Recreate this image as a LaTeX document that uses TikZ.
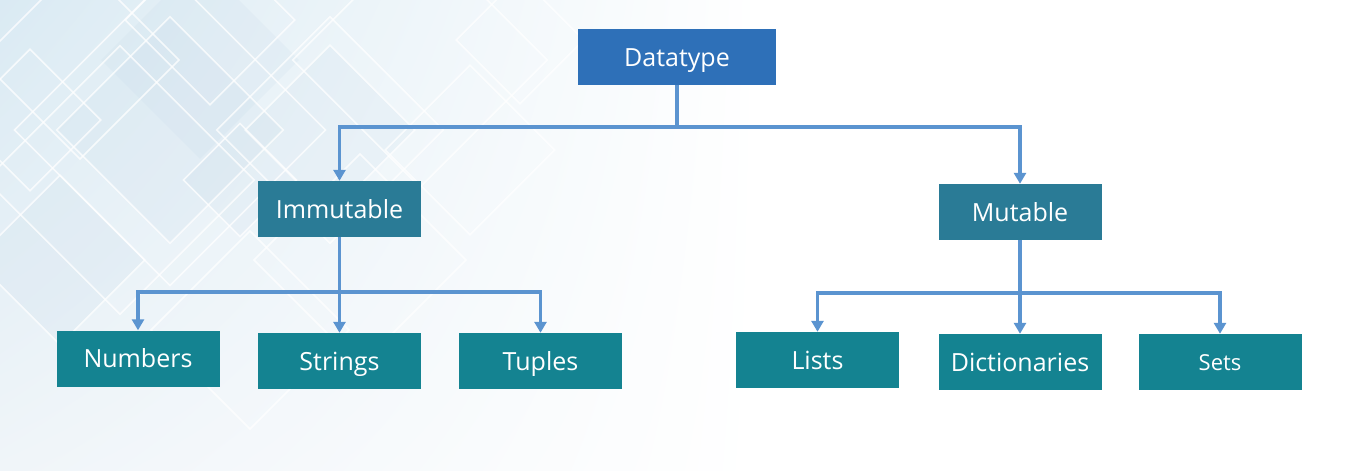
\documentclass[tikz,border=0pt]{standalone}
\usepackage{fontspec}
\setmainfont{Open Sans}
\usetikzlibrary{arrows.meta,shadings}
\definecolor{topblue}{RGB}{46,112,184}
\definecolor{midteal}{RGB}{42,123,150}
\definecolor{leafteal}{RGB}{20,131,145}
\definecolor{linkblue}{RGB}{91,148,208}
\definecolor{bgblue}{RGB}{218,234,243}
\definecolor{bgpale}{RGB}{240,245,249}
\definecolor{diamfill}{RGB}{190,212,230}
\begin{document}
\begin{tikzpicture}[x=1pt,y=-1pt,
  box/.style={rectangle, minimum width=163pt, minimum height=56pt, inner sep=0pt,
    text=white, text height=18pt, text depth=0pt, font=\fontsize{25}{30}\selectfont},
  topbox/.style={box, fill=topblue, minimum width=198pt},
  midbox/.style={box, fill=midteal},
  leafbox/.style={box, fill=leafteal},
  link/.style={draw=linkblue, line width=3.8pt},
  arr/.style={link, -{Triangle[length=11pt,width=12pt]}},
  diamline/.style={draw=white, line width=1.6pt, opacity=0.75},
  diamshade/.style={fill=diamfill, opacity=0.14},
]
% background
\useasboundingbox (0,0) rectangle (1363,471);
\fill[white] (0,0) rectangle (1363,471);
\shade[upper left=bgblue, lower left=bgpale, upper right=white, lower right=white] (0,0) rectangle (760,471);
\begin{scope}
\clip (0,0) rectangle (760,471);
\foreach \cx/\cy/\r in {170/130/80, 330/130/60, 240/180/40, 60/260/60, 200/60/70}
  \fill[diamshade, rotate around={45:(\cx,\cy)}] (\cx-\r,\cy-\r) rectangle (\cx+\r,\cy+\r);
\foreach \cx/\cy/\r in {170/130/110, 170/130/80, 330/130/80, 330/130/60, 80/60/70,
    60/260/60, 240/180/40, 470/150/60, 250/330/70, 120/180/95, 420/60/90,
    30/120/50, 360/260/75, 210/20/60, 520/40/45}
  \draw[diamline, rotate around={45:(\cx,\cy)}] (\cx-\r,\cy-\r) rectangle (\cx+\r,\cy+\r);
\end{scope}

% nodes
\node[topbox] (dt) at (677,57) {Datatype};
\node[midbox] (im) at (339.5,209) {Immutable};
\node[midbox] (mu) at (1020,212) {Mutable};
\node[leafbox] (nu) at (138,358.5) {Numbers};
\node[leafbox] (st) at (339.5,361) {Strings};
\node[leafbox] (tu) at (540.5,361) {Tuples};
\node[leafbox] (li) at (817.5,360) {Lists};
\node[leafbox] (di) at (1020,362) {Dictionaries};
\node[leafbox, text height=16pt, font=\fontsize{22}{26}\selectfont] (se) at (1220,362) {Sets};

% connectors
\path (dt.south) ++(0,42) coordinate (j0);
\path (im.south) ++(0,55) coordinate (j1);
\path (mu.south) ++(0,53) coordinate (j2);
\draw[link] (dt.south) -- (j0);
\draw[arr] (j0) -| (im.north);
\draw[arr] (j0) -| (mu.north);
\draw[link] (im.south) -- (j1);
\draw[arr] (j1) -| (nu.north);
\draw[arr] (j1) -- (st.north);
\draw[arr] (j1) -| (tu.north);
\draw[link] (mu.south) -- (j2);
\draw[arr] (j2) -| (li.north);
\draw[arr] (j2) -- (di.north);
\draw[arr] (j2) -| (se.north);
\end{tikzpicture}
\end{document}
